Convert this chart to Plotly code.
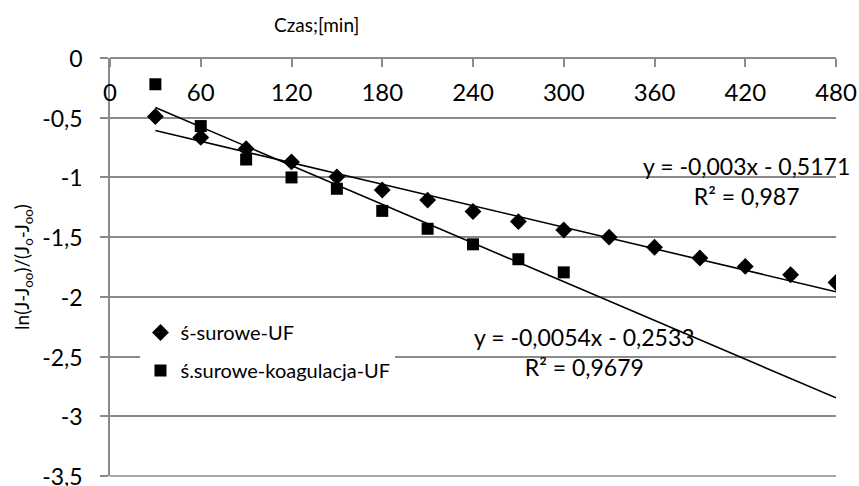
import plotly.graph_objects as go

# ---- data ----
x_diamond = [30, 60, 90, 120, 150, 180, 210, 240, 270, 300, 330, 360, 390, 420, 450, 480]
y_diamond = [-0.49, -0.665, -0.76, -0.87, -0.995, -1.105, -1.19, -1.285, -1.37, -1.44,
             -1.50, -1.585, -1.675, -1.745, -1.815, -1.88]
x_square = [30, 60, 90, 120, 150, 180, 210, 240, 270, 300]
y_square = [-0.22, -0.57, -0.85, -1.0, -1.095, -1.28, -1.43, -1.56, -1.685, -1.795]

series_names = ["ś-surowe-UF", "ś.surowe-koagulacja-UF"]
trend_slope = [-0.003, -0.0054]
trend_intercept = [-0.5171, -0.2533]
trend_x = [30, 480]
trend_labels = ["y = -0,003x - 0,5171<br>R² = 0,987", "y = -0,0054x - 0,2533<br>R² = 0,9679"]

x_tick_vals = [0, 60, 120, 180, 240, 300, 360, 420, 480]
x_tick_text = ["0", "60", "120", "180", "240", "300", "360", "420", "480"]
y_tick_vals = [0, -0.5, -1, -1.5, -2, -2.5, -3, -3.5]
y_tick_text = ["0", "-0,5", "-1", "-1,5", "-2", "-2,5", "-3", "-3,5"]

FONT = "Lato, 'Open Sans', sans-serif"
GRID = "#8a8a8a"

fig = go.Figure()

fig.add_trace(go.Scatter(
    x=x_diamond, y=y_diamond, mode="markers", name=series_names[0],
    legendgroup="a",
    marker=dict(symbol="diamond", size=13, color="black"),
))
fig.add_trace(go.Scatter(
    x=x_square, y=y_square, mode="markers", name=series_names[1],
    legendgroup="b",
    marker=dict(symbol="square", size=12, color="black"),
))

for m, b in zip(trend_slope, trend_intercept):
    fig.add_trace(go.Scatter(
        x=trend_x, y=[m * xv + b for xv in trend_x], mode="lines",
        line=dict(color="black", width=1.6), showlegend=False, hoverinfo="skip",
    ))

# plot area spans page x 110..836, y 58..476 (body margin removed below)
fig.update_layout(
    width=859, height=486,
    margin=dict(l=110, r=23, t=58, b=10),
    paper_bgcolor="white", plot_bgcolor="white",
    font=dict(family=FONT, color="black"),
    showlegend=True,
    legend=dict(
        x=0.042, y=0.39, xanchor="left", yanchor="top",
        bgcolor="white", borderwidth=0,
        font=dict(size=20, family=FONT, color="black"),
        tracegroupgap=9, itemwidth=30,
    ),
    xaxis=dict(
        range=[0, 480], tickvals=x_tick_vals, ticktext=x_tick_text,
        anchor="free", position=1, side="bottom", automargin=False,
        showline=True, linecolor=GRID, linewidth=1.5,
        ticks="outside", ticklen=8, tickcolor=GRID, tickwidth=1.5,
        ticklabelstandoff=5,
        showgrid=False, zeroline=False,
        tickfont=dict(size=24, family=FONT, color="black"),
    ),
    yaxis=dict(
        range=[-3.5, 0], tickvals=y_tick_vals, ticktext=y_tick_text,
        automargin=False, ticklabeloverflow="allow",
        showline=True, linecolor=GRID, linewidth=1.5,
        ticks="outside", ticklen=8, tickcolor=GRID, tickwidth=1.5,
        ticklabelstandoff=13, ticklabelshift=1,
        showgrid=True, gridcolor=GRID, gridwidth=1.5, zeroline=False,
        tickfont=dict(size=23, family=FONT, color="black"),
        title=dict(text="ln(J-J<sub>oo</sub>)/(J<sub>o</sub>-J<sub>oo</sub>)",
                   font=dict(size=19, family=FONT, color="black"), standoff=8),
    ),
    shapes=[dict(type="line", xref="paper", yref="paper", x0=0, x1=1, y0=0, y1=0,
                 line=dict(color=GRID, width=1.5), layer="below")],
)

fig.add_annotation(x=(316 - 110) / 726, y=(476 - 25) / 418, xref="paper", yref="paper",
                   xanchor="center", yanchor="middle",
                   text="Czas;[min]", showarrow=False,
                   font=dict(size=19, family=FONT, color="black"))
fig.add_annotation(x=420.5, y=-1.03, xref="x", yref="y", xanchor="center", yanchor="middle",
                   text=trend_labels[0], showarrow=False,
                   font=dict(size=23, family=FONT, color="black"))
fig.add_annotation(x=313.4, y=-2.458, xref="x", yref="y", xanchor="center", yanchor="middle",
                   text=trend_labels[1], showarrow=False,
                   font=dict(size=23, family=FONT, color="black"))

fig.write_html(
    "out.html",
    config={"displayModeBar": False},
    post_script="document.body.style.margin='0';document.body.style.overflow='hidden';",
)
